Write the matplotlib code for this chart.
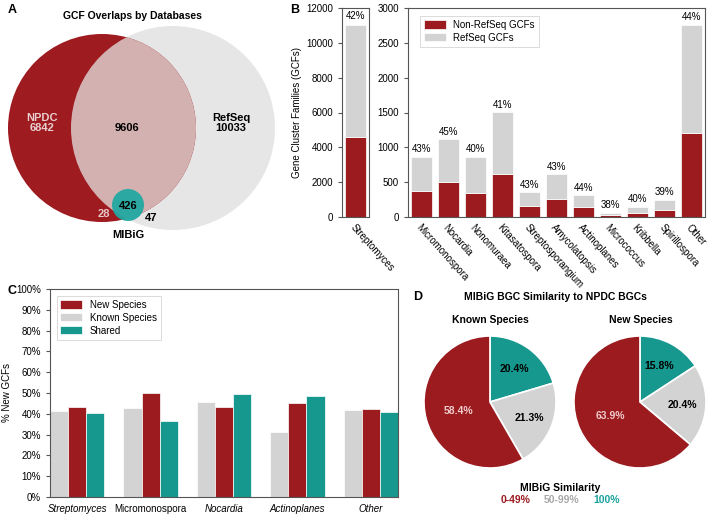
import matplotlib
matplotlib.use("Agg")
import matplotlib.pyplot as plt
from matplotlib.patches import Circle
import numpy as np

plt.rcParams['font.family'] = ['Liberation Sans', 'DejaVu Sans']
plt.rcParams['font.size'] = 7
plt.rcParams['axes.linewidth'] = 0.8
plt.rcParams['axes.edgecolor'] = '#555555'
plt.rcParams['xtick.color'] = '#555555'
plt.rcParams['ytick.color'] = '#555555'
plt.rcParams['xtick.labelcolor'] = 'black'
plt.rcParams['ytick.labelcolor'] = 'black'

RED = '#9b1b1f'
GRAY = '#d3d3d3'
TEAL = '#16988f'

# ---------------- data ----------------
venn_labels = ['NPDC', 'RefSeq', 'MIBiG']
venn_npdc_only = 6842
venn_overlap = 9606
venn_refseq_only = 10033
venn_mibig_core = 426
venn_mibig_npdc = 28
venn_mibig_refseq = 47

genera_left = ['Streptomyces']
nonref_left = [4600]
total_left = [11000]
pct_left = ['42%']

genera_right = ['Micromonospora', 'Nocardia', 'Nonomuraea', 'Kitasatospora',
                'Streptosporangium', 'Amycolatopsis', 'Actinoplanes',
                'Micrococcus', 'Kribbella', 'Spirillospora', 'Other']
nonref_right = [370, 505, 350, 615, 155, 265, 140, 22, 60, 97, 1210]
total_right = [860, 1115, 862, 1500, 352, 612, 310, 57, 145, 248, 2755]
pct_right = ['43%', '45%', '40%', '41%', '43%', '43%', '44%', '38%', '40%', '39%', '44%']

c_groups = ['Streptomyces', 'Micromonospora', 'Nocardia', 'Actinoplanes', 'Other']
c_italic = [True, False, True, True, True]
c_known = [41.5, 42.9, 45.8, 31.2, 41.9]
c_new = [43.3, 49.9, 43.4, 45.1, 42.1]
c_shared = [40.3, 36.7, 49.4, 48.5, 40.7]

pie_slices = ['100%', '50-99%', '0-49%']
pie_known = [20.4, 21.3, 58.4]
pie_new = [15.8, 20.4, 63.9]

W, H = 711, 521
fig = plt.figure(figsize=(W / 100, H / 100), dpi=100)


def fax(x0, y0, x1, y1):
    """axes from pixel box (top-left origin)"""
    return fig.add_axes([x0 / W, 1 - y1 / H, (x1 - x0) / W, (y1 - y0) / H])

# ---------------- Panel A: Venn ----------------
axA = fax(0, 0, 300, 260)
axA.set_xlim(0, 300)
axA.set_ylim(260, 0)
axA.axis('off')
g = Circle((173, 128), 102, color='#e6e6e6', lw=0)
r = Circle((102, 128), 94, color='#9e1b20', lw=0)
axA.add_patch(g)
axA.add_patch(r)
ov = Circle((173, 128), 102, color='#d4b1b1', lw=0)
axA.add_patch(ov)
ov.set_clip_path(r)
m = Circle((128, 205), 16, color='#22a8a2', lw=0, alpha=0.95)
axA.add_patch(m)
axA.text(132, 16, 'GCF Overlaps by Databases', ha='center', va='center', fontsize=7.5, fontweight='bold')
axA.text(42, 123, f'{venn_labels[0]}\n{venn_npdc_only}', ha='center', va='center',
         fontsize=8, fontweight='bold', color='#ead0d0', linespacing=1.1)
axA.text(127, 128, f'{venn_overlap}', ha='center', va='center', fontsize=8, fontweight='bold')
axA.text(231, 123, f'{venn_labels[1]}\n{venn_refseq_only}', ha='center', va='center',
         fontsize=8, fontweight='bold', linespacing=1.1)
axA.text(128, 206, f'{venn_mibig_core}', ha='center', va='center', fontsize=8, fontweight='bold')
axA.text(104, 214, f'{venn_mibig_npdc}', ha='center', va='center', fontsize=8, fontweight='bold', color='#e8c8c8')
axA.text(151, 218, f'{venn_mibig_refseq}', ha='center', va='center', fontsize=8, fontweight='bold')
axA.text(128, 235, venn_labels[2], ha='center', va='center', fontsize=8, fontweight='bold')
fig.text(8 / W, 1 - 10 / H, 'A', fontsize=9, fontweight='bold', va='center', ha='left')

# ---------------- Panel B ----------------
axB1 = fax(342, 8, 369, 217)
axB2 = fax(408, 8, 705, 217)

xl = np.arange(len(genera_left))
rest_left = [t - n for t, n in zip(total_left, nonref_left)]
axB1.bar(xl, nonref_left, width=0.75, color=RED, edgecolor='white', lw=0.5)
axB1.bar(xl, rest_left, bottom=nonref_left, width=0.75, color=GRAY, edgecolor='white', lw=0.5)
for i, t in enumerate(total_left):
    axB1.text(xl[i], t + 250, pct_left[i], ha='center', va='bottom', fontsize=7)
axB1.set_xlim(-0.5, 0.5)
axB1.set_ylim(0, 12000)
axB1.set_yticks(np.arange(0, 12001, 2000))
axB1.set_xticks(xl)
axB1.set_xticklabels(genera_left, rotation=-48, ha='left', rotation_mode='anchor')
axB1.tick_params(axis='x', length=0, pad=4)
axB1.tick_params(axis='y', length=3, width=0.8, labelsize=7)
axB1.set_ylabel('Gene Cluster Families (GCFs)', fontsize=7)
axB1.yaxis.set_label_coords(-1.5, 0.5)

xr = np.arange(len(genera_right))
rest_right = [t - n for t, n in zip(total_right, nonref_right)]
axB2.bar(xr, nonref_right, width=0.78, color=RED, edgecolor='white', lw=0.5, label='Non-RefSeq GCFs')
axB2.bar(xr, rest_right, bottom=nonref_right, width=0.78, color=GRAY, edgecolor='white', lw=0.5, label='RefSeq GCFs')
for i, t in enumerate(total_right):
    axB2.text(xr[i], t + 40, pct_right[i], ha='center', va='bottom', fontsize=7)
axB2.set_xlim(-0.5, len(genera_right) - 0.5)
axB2.set_ylim(0, 3000)
axB2.set_yticks(np.arange(0, 3001, 500))
axB2.set_xticks(xr)
axB2.set_xticklabels(genera_right, rotation=-48, ha='left', rotation_mode='anchor')
axB2.tick_params(axis='x', length=0, pad=4)
axB2.tick_params(axis='y', length=3, width=0.8, labelsize=7)
leg = axB2.legend(loc='upper left', fontsize=7, frameon=True, fancybox=False,
                  borderpad=0.4, handlelength=2.2, handleheight=0.9, labelspacing=0.3,
                  bbox_to_anchor=(0.025, 0.985))
leg.get_frame().set_edgecolor('#cccccc')
leg.get_frame().set_linewidth(0.6)
fig.text(290 / W, 1 - 10 / H, 'B', fontsize=9, fontweight='bold', va='center', ha='left')

# ---------------- Panel C ----------------
axC = fax(50, 289, 398, 497)
xc = np.arange(len(c_groups))
bw = 0.247
axC.bar(xc - bw, c_known, width=bw, color=GRAY, edgecolor='white', lw=0.5, label='Known Species')
axC.bar(xc, c_new, width=bw, color=RED, edgecolor='white', lw=0.5, label='New Species')
axC.bar(xc + bw, c_shared, width=bw, color=TEAL, edgecolor='white', lw=0.5, label='Shared')
axC.set_xlim(-1.5 * bw, len(c_groups) - 1 + 1.5 * bw)
axC.set_ylim(0, 100)
axC.set_yticks(np.arange(0, 101, 10))
axC.set_yticklabels([f'{v}%' for v in range(0, 101, 10)])
axC.set_xticks(xc)
axC.set_xticklabels(c_groups)
for lab, it in zip(axC.get_xticklabels(), c_italic):
    lab.set_fontstyle('italic' if it else 'normal')
axC.tick_params(axis='x', length=0, pad=5, labelsize=7)
axC.tick_params(axis='y', length=3, width=0.8, labelsize=7)
axC.set_ylabel('% New GCFs', fontsize=7)
axC.yaxis.set_label_coords(-0.11, 0.5)
h, l = axC.get_legend_handles_labels()
order = [1, 0, 2]
legC = axC.legend([h[i] for i in order], [l[i] for i in order], loc='upper left', fontsize=7,
                  frameon=True, fancybox=False, borderpad=0.4, handlelength=2.2,
                  handleheight=0.9, labelspacing=0.3, bbox_to_anchor=(0.005, 0.99))
legC.get_frame().set_edgecolor('#cccccc')
legC.get_frame().set_linewidth(0.6)
fig.text(8 / W, 1 - 291 / H, 'C', fontsize=9, fontweight='bold', va='center', ha='left')

# ---------------- Panel D ----------------
axD = fax(390, 280, 711, 521)
pie_colors = [TEAL, GRAY, RED]
centers = [(490, 521 - 402), (640, 521 - 402)]
rad = 66
lab_dist = [0.62, 0.64, 0.5]
for data, ctr in zip([pie_known, pie_new], centers):
    wedges, _ = axD.pie(data, colors=pie_colors, startangle=90, counterclock=False,
                        center=ctr, radius=rad, explode=[0.0, 0.03, 0.04],
                        wedgeprops=dict(edgecolor='white', linewidth=1.2))
    for w, v, d in zip(wedges, data, lab_dist):
        ang = np.deg2rad((w.theta1 + w.theta2) / 2)
        cx, cy = w.center
        col = '#f0cccc' if w.get_facecolor()[0] > 0.5 and w.get_facecolor()[1] < 0.3 else 'black'
        axD.text(cx + d * rad * np.cos(ang), cy + d * rad * np.sin(ang), f'{v}%',
                 ha='center', va='center', fontsize=7.5, fontweight='bold', color=col)
axD.set_aspect('auto')
axD.set_xlim(390, 711)
axD.set_ylim(0, 241)
axD.axis('off')
axD.text(555, 521 - 297, 'MIBiG BGC Similarity to NPDC BGCs', ha='center', va='center',
         fontsize=7.5, fontweight='bold')
axD.text(490, 521 - 320, 'Known Species', ha='center', va='center', fontsize=7.5, fontweight='bold')
axD.text(641, 521 - 320, 'New Species', ha='center', va='center', fontsize=7.5, fontweight='bold')
axD.text(560, 521 - 488, 'MIBiG Similarity', ha='center', va='center', fontsize=7.5, fontweight='bold')
for txt, col, x in zip(['0-49%', '50-99%', '100%'], [RED, '#a8a8a8', '#1aa39e'], [516, 562, 607]):
    axD.text(x, 521 - 500, txt, ha='center', va='center', fontsize=7.5, fontweight='bold', color=col)
fig.text(413 / W, 1 - 297 / H, 'D', fontsize=9, fontweight='bold', va='center', ha='left')

fig.savefig('out.png', dpi=100)
